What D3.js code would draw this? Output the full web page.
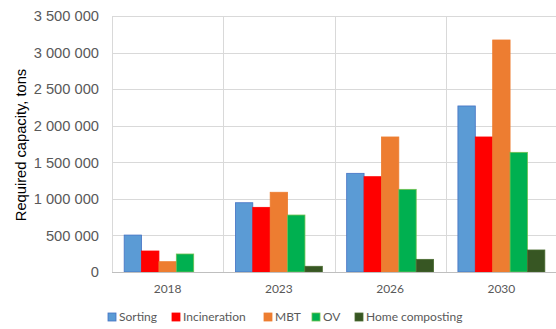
<!DOCTYPE html>
<html>
<head>
<meta charset="utf-8">
<script src="https://cdn.jsdelivr.net/npm/d3@7"></script>
<style>
  html, body { margin: 0; padding: 0; background: #fff; }
  svg { display: block; }
</style>
</head>
<body>
<svg id="chart" width="556" height="329"></svg>
<script>
// Required treatment capacity per year and method (tons)
const years = ["2018", "2023", "2026", "2030"];
const methods = ["Sorting", "Incineration", "MBT", "OV", "Home composting"];
const sorting        = [505000, 947000, 1349000, 2270000];
const incineration   = [287000, 884000, 1303000, 1846000];
const mbt            = [141000, 1090000, 1846000, 3172000];
const ov             = [246000, 779000, 1130000, 1636000];
const homeComposting = [0, 78000, 173000, 301000];
const yTicks = [0, 500000, 1000000, 1500000, 2000000, 2500000, 3000000, 3500000];

const seriesValues = [sorting, incineration, mbt, ov, homeComposting];
const fills   = ["#5B9BD5", "#FF0000", "#ED7D31", "#00B050", "#375623"];
const strokes = ["#4472C4", "#FF0000", "#ED7D31", "#70C050", "#4A6B30"];

const svg = d3.select("#chart");
const plotLeft = 112, plotRight = 557, plotTop = 16, plotBottom = 272;

const x0 = d3.scaleBand().domain(years).range([plotLeft, plotRight]).padding(0);
const x1 = d3.scaleBand().domain(methods)
  .range([0, x0.bandwidth()]).paddingInner(0).paddingOuter(0.7);
const y = d3.scaleLinear().domain([0, 3500000]).range([plotBottom, plotTop]);

const fmt = v => d3.format(",")(v).replace(/,/g, "\u00a0");

// horizontal gridlines
svg.append("g").selectAll("line").data(yTicks.slice(1)).join("line")
  .attr("x1", plotLeft).attr("x2", plotRight)
  .attr("y1", d => Math.round(y(d)) + 0.5).attr("y2", d => Math.round(y(d)) + 0.5)
  .attr("stroke", "#D9D9D9").attr("stroke-width", 1);

// vertical category separators
svg.append("g").selectAll("line").data(years.slice(1)).join("line")
  .attr("x1", d => Math.round(x0(d)) + 0.5).attr("x2", d => Math.round(x0(d)) + 0.5)
  .attr("y1", plotTop).attr("y2", plotBottom)
  .attr("stroke", "#D9D9D9").attr("stroke-width", 1);

// left axis line
svg.append("line")
  .attr("x1", plotLeft + 0.5).attr("x2", plotLeft + 0.5)
  .attr("y1", plotTop).attr("y2", plotBottom)
  .attr("stroke", "#D9D9D9");

// y axis labels
const yAxis = d3.axisLeft(y).tickValues(yTicks).tickFormat(fmt).tickSize(0).tickPadding(0);
const gy = svg.append("g").attr("transform", `translate(${plotLeft - 13},0)`).call(yAxis);
gy.select(".domain").remove();
gy.selectAll("text")
  .attr("font-family", "'Liberation Sans', Arial, sans-serif")
  .attr("font-size", "14.7px")
  .attr("fill", "#595959");

// bars
const groups = svg.append("g").selectAll("g").data(years).join("g")
  .attr("transform", d => `translate(${x0(d)},0)`);
groups.selectAll("rect")
  .data((yr, i) => methods.map((m, k) => ({ m, k, v: seriesValues[k][i] })))
  .join("rect")
  .filter(d => d.v > 0)
  .attr("x", d => x1(d.m))
  .attr("width", x1.bandwidth())
  .attr("y", d => y(d.v))
  .attr("height", d => plotBottom - y(d.v))
  .attr("fill", d => fills[d.k])
  .attr("stroke", d => strokes[d.k])
  .attr("stroke-width", 0.8);

// bottom axis line
svg.append("line")
  .attr("x1", plotLeft).attr("x2", plotRight)
  .attr("y1", plotBottom + 0.5).attr("y2", plotBottom + 0.5)
  .attr("stroke", "#BFBFBF");

// x axis labels
const xAxis = d3.axisBottom(x0).tickSize(0).tickPadding(0);
const gx = svg.append("g").attr("transform", `translate(0,${plotBottom + 12})`).call(xAxis);
gx.select(".domain").remove();
gx.selectAll("text")
  .attr("dy", "0.71em")
  .attr("font-family", "Lato, 'Open Sans', sans-serif")
  .attr("font-size", "12px")
  .attr("fill", "#595959");

// y axis title
svg.append("text")
  .attr("transform", "translate(26,145) rotate(-90)")
  .attr("text-anchor", "middle")
  .attr("font-family", "'Liberation Sans', Arial, sans-serif")
  .attr("font-size", "14.7px")
  .attr("fill", "#000")
  .text("Required capacity, tons");

// legend
const legendX = [108, 172, 264, 312, 355];
const legend = svg.append("g").selectAll("g").data(methods).join("g")
  .attr("transform", (d, i) => `translate(${legendX[i]},313)`);
legend.append("rect")
  .attr("width", 8).attr("height", 8)
  .attr("fill", (d, i) => fills[i])
  .attr("stroke", (d, i) => strokes[i]).attr("stroke-width", 0.8);
legend.append("text")
  .attr("x", 11).attr("y", 4).attr("dy", "0.35em")
  .attr("font-family", "Lato, 'Open Sans', sans-serif")
  .attr("font-size", "12px")
  .attr("fill", "#595959")
  .text(d => d);
</script>
</body>
</html>
